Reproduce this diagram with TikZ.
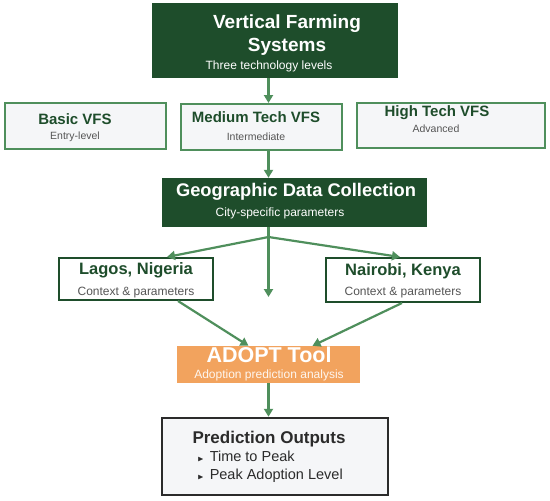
\documentclass[tikz,border=0pt]{standalone}
\usepackage{amssymb}
\usepackage{fontspec}
\setmainfont{Liberation Sans}
\usetikzlibrary{positioning, arrows.meta}

\definecolor{vfsdark}{HTML}{1E4D2B}
\definecolor{vfsgreen}{HTML}{4F8F5C}
\definecolor{vfsfill}{HTML}{F5F6F8}
\definecolor{vfsorange}{HTML}{F2A35E}
\definecolor{vfsink}{HTML}{2B2B2B}
\definecolor{vfssub}{HTML}{555555}

\tikzset{
  darkbox/.style={fill=vfsdark, inner sep=0pt},
  lightbox/.style={draw=vfsgreen, line width=2pt, fill=vfsfill, inner sep=0pt},
  citybox/.style={draw=vfsdark, line width=2pt, fill=white, inner sep=0pt},
  toolbox/.style={fill=vfsorange, inner sep=0pt},
  outbox/.style={draw=vfsink, line width=2.5pt, fill=vfsfill, inner sep=0pt},
  bigtitle/.style={text=white, font=\bfseries\fontsize{19}{23}\selectfont, align=center},
  boxtitle/.style={text=vfsdark, font=\bfseries\fontsize{15}{17}\selectfont},
  citytitle/.style={text=vfsdark, font=\bfseries\fontsize{16.5}{19}\selectfont},
  whitesub/.style={text=white, font=\fontsize{12}{14}\selectfont},
  greysub/.style={text=vfssub, font=\fontsize{10.5}{12}\selectfont},
  bullet/.style={text=vfsink, font=\fontsize{14.5}{17}\selectfont, anchor=west},
  arr/.style={draw=vfsgreen, line width=2.2pt, -{Triangle[length=8pt,width=9pt]}},
}
\newcommand{\tri}{{\fontsize{8}{8}\selectfont$\blacktriangleright$}\hspace{6pt}}

\begin{document}
\begin{tikzpicture}[x=1pt, y=-1pt]
    \useasboundingbox (0,0) rectangle (550,501);

    % boxes
    \node[darkbox, minimum width=246pt, minimum height=75pt] (vfs) at (275,40.5) {};
    \node[lightbox, minimum width=161pt, minimum height=46pt] (basic) at (85.5,125.5) {};
    \node[lightbox, minimum width=161pt, minimum height=46pt] (medium) at (261.5,127) {};
    \node[lightbox, minimum width=188pt, minimum height=45pt] (high) at (451,125.5) {};
    \node[darkbox, minimum width=265pt, minimum height=49pt] (geo) at (294.5,202.5) {};
    \node[citybox, minimum width=154pt, minimum height=42pt] (lagos) at (136,279) {};
    \node[citybox, minimum width=154pt, minimum height=44pt] (nairobi) at (403,280) {};
    \node[toolbox, minimum width=183pt, minimum height=37pt] (adopt) at (268.5,364.5) {};
    \node[outbox, minimum width=226pt, minimum height=77pt] (outputs) at (275,456.5) {};

    % texts
    \node[bigtitle] (vfs-title) at (287,35) {Vertical Farming\\Systems};
    \node[whitesub] (vfs-sub) at (269,66) {Three technology levels};
    \node[boxtitle] (basic-title) at (75,119) {Basic VFS};
    \node[greysub] (basic-sub) at (75,137) {Entry-level};
    \node[boxtitle] (medium-title) at (256,117) {Medium Tech VFS};
    \node[greysub] (medium-sub) at (256,137) {Intermediate};
    \node[boxtitle] (high-title) at (437,113) {High Tech VFS};
    \node[greysub] (high-sub) at (436,129) {Advanced};
    \node[bigtitle, font=\bfseries\fontsize{18.3}{21}\selectfont] (geo-title) at (296,192) {Geographic Data Collection};
    \node[whitesub] (geo-sub) at (280,213) {City-specific parameters};
    \node[citytitle] (lagos-title) at (136,270) {Lagos, Nigeria};
    \node[greysub, font=\fontsize{12}{14}\selectfont] (lagos-sub) at (136,293) {Context \& parameters};
    \node[citytitle] (nairobi-title) at (403,271) {Nairobi, Kenya};
    \node[greysub, font=\fontsize{12}{14}\selectfont] (nairobi-sub) at (403,293) {Context \& parameters};
    \node[bigtitle, font=\bfseries\fontsize{21.5}{25}\selectfont] (adopt-title) at (269,355) {ADOPT Tool};
    \node[whitesub, text=white!90!vfsorange] (adopt-sub) at (269,375) {Adoption prediction analysis};
    \node[text=vfsink, font=\bfseries\fontsize{17}{20}\selectfont] (outputs-title) at (269,439) {Prediction Outputs};
    \node[bullet] (peak-time) at (194,456) {\tri Time to Peak};
    \node[bullet] (peak-level) at (194,476) {\tri Peak Adoption Level};

    % connectors
    \coordinate (trunk) at (268.5,237);
    \coordinate (middown) at (268.5,297);
    \draw[arr] (vfs.south -| trunk) -- (medium.north -| trunk);
    \draw[arr] (medium.south -| trunk) -- (geo.north -| trunk);
    \draw[arr, -] (geo.south -| trunk) -- (trunk);
    \draw[arr] (trunk) -- ([xshift=31pt]lagos.north);
    \draw[arr] (trunk) -- ([xshift=-3pt]nairobi.north);
    \draw[arr] (trunk) -- (middown);
    \draw[arr] ([xshift=42pt]lagos.south) -- ([xshift=-20pt]adopt.north);
    \draw[arr] ([xshift=-1pt]nairobi.south) -- ([xshift=44pt]adopt.north);
    \draw[arr] (adopt.south -| trunk) -- (outputs.north -| trunk);
\end{tikzpicture}
\end{document}
